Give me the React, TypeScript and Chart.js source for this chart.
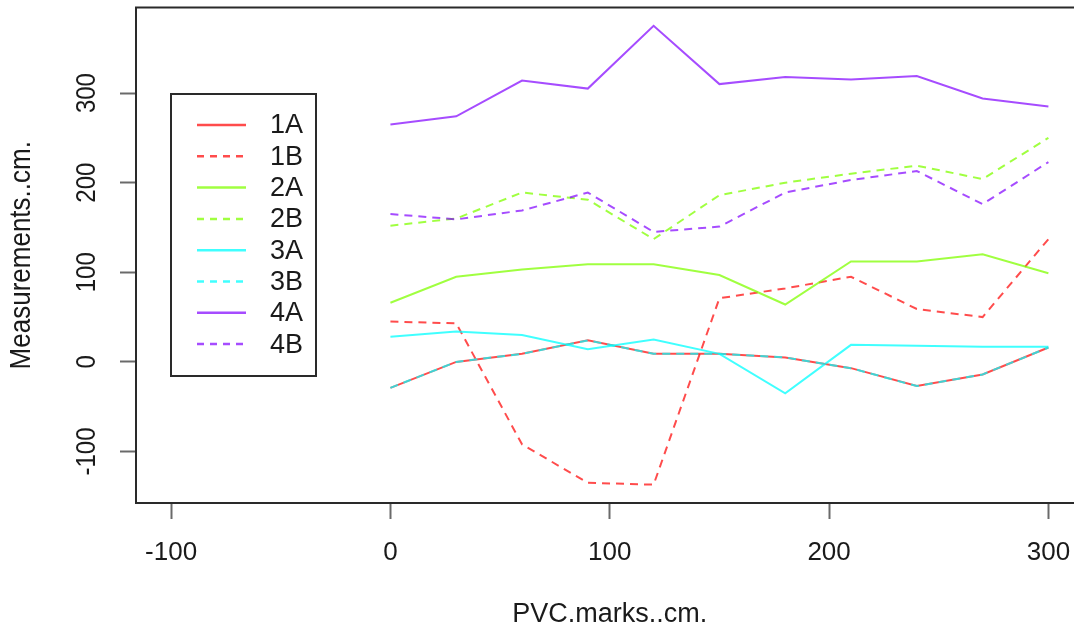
import { useEffect, useRef } from "react";
import { Chart, registerables } from "chart.js";

Chart.register(...registerables);

// PVC mark positions (cm) along the x axis
const PVC_MARKS = [0, 30, 60, 90, 120, 150, 180, 210, 240, 270, 300];

// Measurements (cm) for each series
const SERIES_NAMES = ["1A", "1B", "2A", "2B", "3A", "3B", "4A", "4B"];
const M_1A = [-29, 0, 9, 24, 9, 9, 5, -7, -27, -14, 16];
const M_1B = [45, 43, -92, -135, -137, 71, 82, 95, 59, 50, 137];
const M_2A = [66, 95, 103, 109, 109, 97, 64, 112, 112, 120, 99];
const M_2B = [152, 160, 189, 181, 137, 186, 200, 210, 219, 204, 250];
const M_3A = [28, 34, 30, 14, 25, 9, -35, 19, 18, 17, 17];
const M_3B = [-29, 0, 9, 24, 9, 9, 5, -7, -27, -14, 16];
const M_4A = [265, 274, 314, 305, 375, 310, 318, 315, 319, 294, 285];
const M_4B = [165, 159, 169, 189, 145, 151, 189, 203, 213, 176, 223];

const X_LIMITS = [-100, 300];
const X_TICKS = [-100, 0, 100, 200, 300];
const Y_TICKS = [-100, 0, 100, 200, 300];

const X_TITLE = "PVC.marks..cm.";
const Y_TITLE = "Measurements..cm.";

const SERIES_VALUES = [M_1A, M_1B, M_2A, M_2B, M_3A, M_3B, M_4A, M_4B];
const SERIES_COLORS = [
  "rgba(255,0,0,0.7)",
  "rgba(255,0,0,0.7)",
  "rgba(128,255,0,0.75)",
  "rgba(128,255,0,0.75)",
  "rgba(0,255,255,0.75)",
  "rgba(0,255,255,0.75)",
  "rgba(128,0,255,0.7)",
  "rgba(128,0,255,0.7)",
];

const FONT = "'Liberation Sans', Arial, sans-serif";
const DASH = [8, 6];

// R-style axis extension: 4% beyond the data range on each side
function extend(lo: number, hi: number) {
  const pad = (hi - lo) * 0.04;
  return [lo - pad, hi + pad];
}

const allValues = SERIES_VALUES.flat();
const [Y_MIN, Y_MAX] = extend(Math.min(...allValues), Math.max(...allValues));
const [X_MIN, X_MAX] = extend(X_LIMITS[0], X_LIMITS[1]);

// text running bottom-to-top, slightly widened across its height
function verticalText(ctx: CanvasRenderingContext2D, text: string, x: number, y: number, widen: number) {
  ctx.save();
  ctx.translate(x, y);
  ctx.rotate(-Math.PI / 2);
  ctx.scale(1, widen);
  ctx.fillText(text, 0, 0);
  ctx.restore();
}

const basePlot = {
  id: "basePlot",
  afterDraw(chart: any) {
    const { ctx, chartArea: a, scales } = chart;
    ctx.save();

    // plot box
    ctx.strokeStyle = "#2a2a2a";
    ctx.lineWidth = 2;
    ctx.setLineDash([]);
    ctx.strokeRect(a.left, a.top, a.right - a.left, a.bottom - a.top);

    // x tick labels
    ctx.fillStyle = "#1a1a1a";
    ctx.font = `26px ${FONT}`;
    ctx.textAlign = "center";
    ctx.textBaseline = "middle";
    for (const t of scales.x.ticks) {
      ctx.fillText(String(t.value), scales.x.getPixelForValue(t.value), a.bottom + 50);
    }

    // y tick labels, drawn parallel to the axis
    ctx.font = `24px ${FONT}`;
    for (const t of scales.y.ticks) {
      verticalText(ctx, String(t.value), a.left - 48, scales.y.getPixelForValue(t.value), 1.12);
    }

    // axis titles
    ctx.font = `27px ${FONT}`;
    ctx.fillText(X_TITLE, (a.left + a.right) / 2, a.bottom + 112);
    ctx.font = `26px ${FONT}`;
    verticalText(ctx, Y_TITLE, a.left - 114, (a.top + a.bottom) / 2, 1.12);

    // legend
    const lx = 171, ly = 94, lw = 145, lh = 282;
    ctx.fillStyle = "#ffffff";
    ctx.fillRect(lx, ly, lw, lh);
    ctx.strokeStyle = "#2a2a2a";
    ctx.lineWidth = 2;
    ctx.strokeRect(lx, ly, lw, lh);
    ctx.font = `27px ${FONT}`;
    ctx.textAlign = "left";
    chart.data.datasets.forEach((ds: any, i: number) => {
      const ry = ly + 31 + i * 31.3;
      ctx.strokeStyle = ds.borderColor;
      ctx.lineWidth = 2.5;
      ctx.setLineDash(ds.borderDash && ds.borderDash.length ? [7, 6] : []);
      ctx.beginPath();
      ctx.moveTo(lx + 26, ry);
      ctx.lineTo(lx + 75, ry);
      ctx.stroke();
      ctx.setLineDash([]);
      ctx.fillStyle = "#1a1a1a";
      ctx.fillText(ds.label, lx + 99, ry + 1);
    });

    ctx.restore();
  },
};

export default function App() {
  const canvasRef = useRef<HTMLCanvasElement | null>(null);

  useEffect(() => {
    const canvas = canvasRef.current;
    if (!canvas) return;

    const datasets = SERIES_NAMES.map((name, i) => ({
      label: name,
      data: PVC_MARKS.map((x, j) => ({ x, y: SERIES_VALUES[i][j] })),
      borderColor: SERIES_COLORS[i],
      backgroundColor: SERIES_COLORS[i],
      borderWidth: 2,
      borderDash: name.endsWith("B") ? DASH : [],
      pointRadius: 0,
      tension: 0,
      fill: false,
      order: SERIES_NAMES.length - i,
    }));

    const chart = new Chart(canvas, {
      type: "line",
      data: { datasets },
      options: {
        animation: false,
        responsive: false,
        devicePixelRatio: 1,
        layout: { padding: { left: 0, top: 7.5, right: 16.5, bottom: 0 } },
        plugins: {
          legend: { display: false },
          tooltip: { enabled: false },
        },
        scales: {
          x: {
            type: "linear",
            min: X_MIN,
            max: X_MAX,
            afterBuildTicks: (s: any) => {
              s.ticks = X_TICKS.map((v) => ({ value: v }));
            },
            afterFit: (s: any) => {
              s.height = 125;
            },
            ticks: { display: false },
            border: { display: false },
            grid: {
              drawOnChartArea: false,
              drawTicks: true,
              tickLength: 16,
              tickWidth: 2,
              tickColor: "#6a6a6a",
            },
          },
          y: {
            type: "linear",
            min: Y_MIN,
            max: Y_MAX,
            afterBuildTicks: (s: any) => {
              s.ticks = Y_TICKS.map((v) => ({ value: v }));
            },
            afterFit: (s: any) => {
              s.width = 136;
            },
            ticks: { display: false },
            border: { display: false },
            grid: {
              drawOnChartArea: false,
              drawTicks: true,
              tickLength: 16,
              tickWidth: 2,
              tickColor: "#6a6a6a",
            },
          },
        },
      },
      plugins: [basePlot],
    });

    return () => chart.destroy();
  }, []);

  return (
    <div
      style={{
        position: "fixed",
        left: 0,
        top: 0,
        width: 1074,
        height: 628,
        overflow: "hidden",
        background: "#ffffff",
      }}
    >
      <canvas ref={canvasRef} width={1100} height={628} style={{ display: "block" }} />
    </div>
  );
}
